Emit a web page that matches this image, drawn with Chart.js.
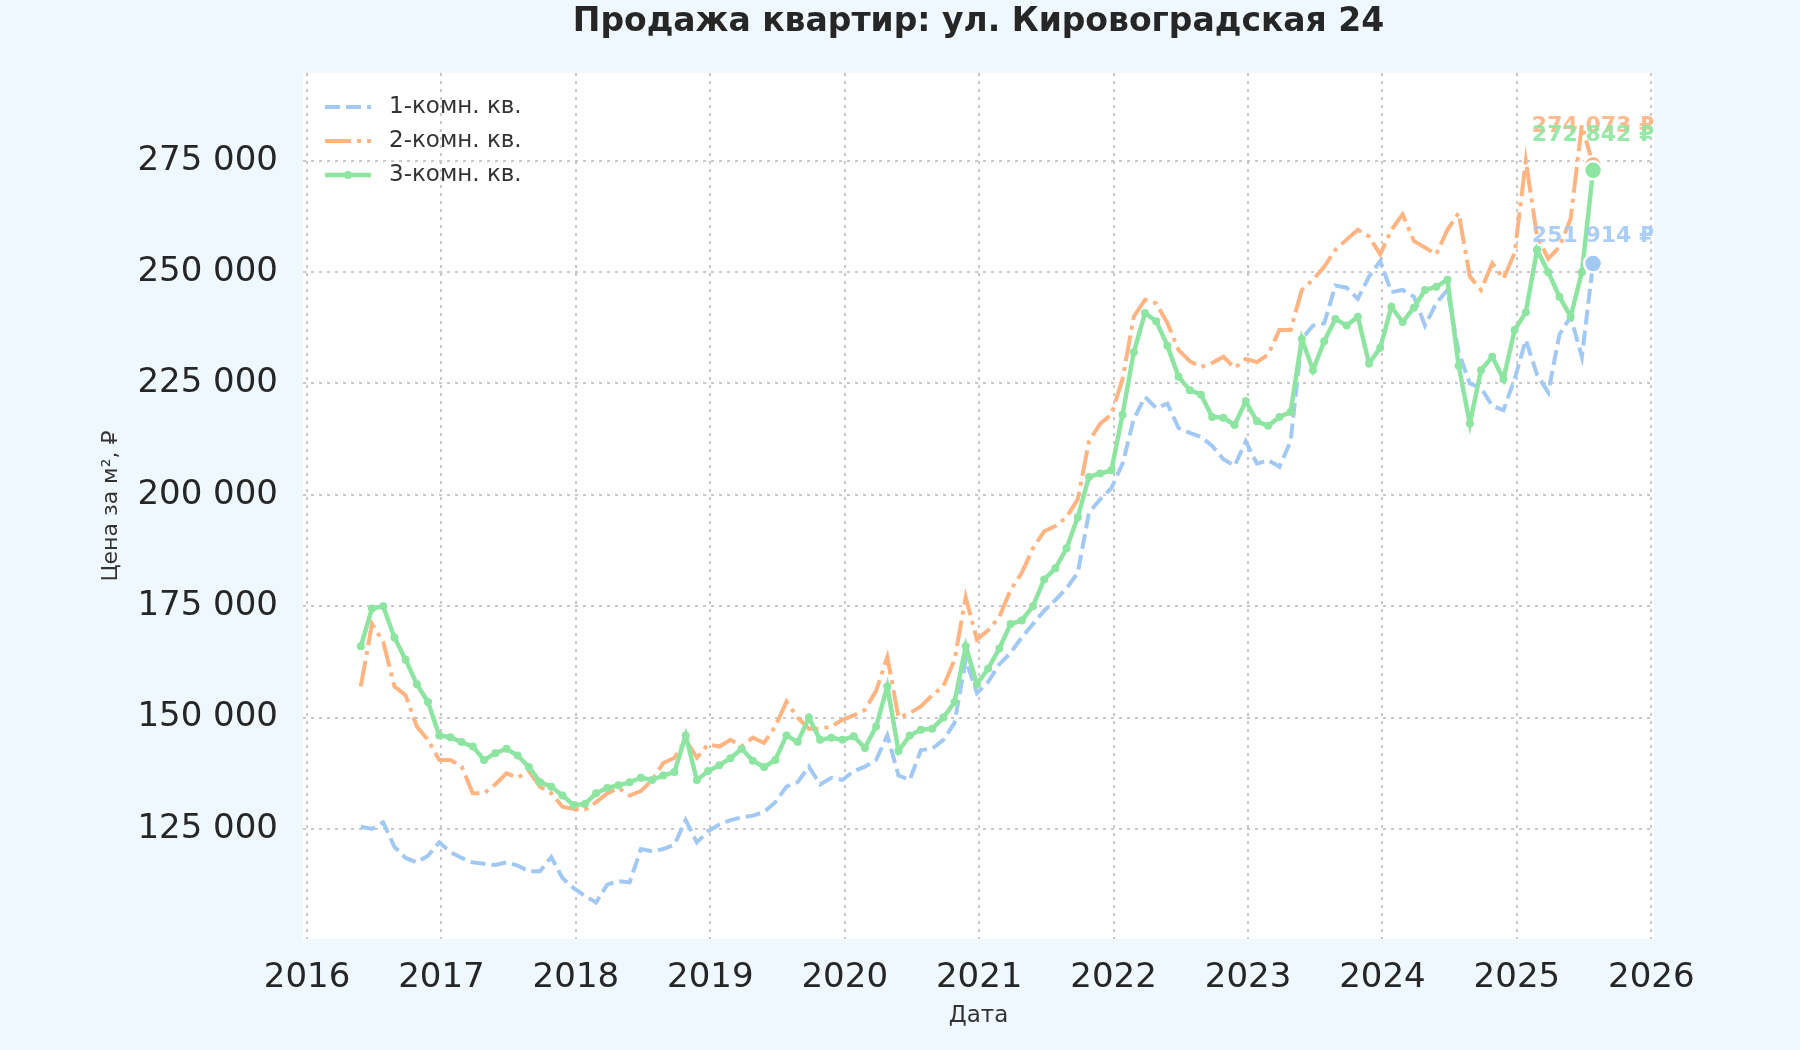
<!DOCTYPE html>
<html lang="ru">
<head>
    <meta charset="UTF-8">
    <title>Продажа квартир: ул. Кировоградская 24</title>
    <script src="https://cdn.jsdelivr.net/npm/chart.js@4.4.1/dist/chart.umd.min.js"></script>
    <style>
        html, body { margin: 0; padding: 0; background: #f0f8ff; }
        #wrap { width: 1800px; height: 1050px; }
    </style>
</head>
<body>
<div id="wrap"><canvas id="chart" width="1800" height="1050"></canvas></div>
<script>
// Данные: цена за м² в тыс. ₽, по месяцам с мая 2016 по июль 2025
const START_YEAR = 2016;
const START_MONTH = 5;

const room1 = [
  125.5, 125, 126.5, 121, 118.5, 117.5, 119, 122, 119.8, 118.5,
  117.5, 117.2, 116.9, 117.5, 116.8, 115.5, 115.5, 118.7, 114, 111.7,
  110, 108.5, 112.5, 113.3, 113, 120.5, 120, 120.5, 121.5, 127,
  122, 124.5, 126, 127, 127.6, 128, 128.8, 131, 134.5, 135.5,
  139, 135, 136.5, 136, 138, 139, 140.5, 146, 137, 136,
  142.7, 143, 145, 148.8, 163, 155.5, 158, 162, 164.5, 168,
  171, 174, 176.4, 179, 182.5, 196, 199, 201.5, 207, 217,
  222, 219.5, 220.5, 215, 213.9, 213, 211, 208, 206.5, 212,
  207, 207.8, 206.3, 212, 235, 238, 238.5, 247, 246.5, 244,
  249, 252.5, 245.5, 246, 244.5, 238, 243, 246, 232, 225,
  224, 220, 219, 226, 234.8, 227, 223, 236, 240, 231,
  251.914
];

const room2 = [
  157, 171, 167, 157, 155, 148, 145, 140.5, 140.5, 139,
  133, 133, 135, 137.5, 136.5, 138, 134.5, 133, 130, 129.5,
  129.3, 131, 133, 134.2, 132.5, 133.5, 136, 139.8, 141, 145,
  141, 144, 143.5, 145, 143.6, 145.5, 144.3, 148, 153.6, 150,
  147.5, 147.5, 148, 149.5, 150.5, 151.7, 156, 163.6, 150, 151,
  152.5, 155, 157, 163, 177, 167.5, 169.6, 172.6, 178.6, 182.5,
  188, 191.8, 193, 195, 199, 212, 216, 218, 226, 240,
  243.8, 243, 238.6, 232.5, 230, 228.7, 229.6, 231, 228.5, 230.5,
  229.8, 231.5, 237, 237, 246, 248.3, 251.2, 255, 257.3, 259.5,
  258, 254, 259.5, 263, 257, 255.5, 254, 259.5, 263.3, 249,
  246, 252, 248.5, 254.3, 275, 258, 253, 255.7, 262, 283,
  274.073
];

const room3 = [
  166, 174.5, 175, 168, 163, 157.5, 153.5, 146, 145.6, 144.5,
  143.5, 140.5, 142, 143, 141.5, 138.9, 135.5, 134.5, 132.5, 130.4,
  130.6, 133, 134.2, 134.8, 135.5, 136.5, 136, 137, 137.8, 146,
  136, 138, 139.3, 140.9, 143, 140.3, 138.9, 140.5, 146, 144.5,
  150, 145, 145.5, 145, 145.8, 143.2, 148, 157, 142.5, 146,
  147.3, 147.5, 150, 153.5, 166, 157.5, 161, 165.5, 171, 171.8,
  175, 181, 183.5, 188, 195, 204, 204.8, 205.5, 218, 232,
  240.8, 239, 233.5, 226.5, 223.5, 222.5, 217.5, 217.3, 215.7, 221,
  216.5, 215.5, 217.5, 218.6, 235, 228, 234.5, 239.5, 238, 240,
  229.5, 233, 242.2, 238.8, 242, 246, 246.7, 248.3, 229, 216,
  228, 231, 226, 237, 241, 255, 250, 244.5, 240, 250,
  272.842
];

const seriesNames = ['1-комн. кв.', '2-комн. кв.', '3-комн. кв.'];
const xTicks = [2016, 2017, 2018, 2019, 2020, 2021, 2022, 2023, 2024, 2025, 2026];
const yTicks = [125000, 150000, 175000, 200000, 225000, 250000, 275000];

const COLORS = ['#a1c9f4', '#ffb482', '#8de5a1'];
const TEXT = '#262626';
const FONT = "'DejaVu Sans', sans-serif";
Chart.defaults.font.family = FONT;

// Дата в дробных годах (конец месяца ~ 0.8)
function monthToYear(i) {
  const m = START_MONTH - 1 + i;
  return START_YEAR + Math.floor(m / 12) + ((m % 12) + 0.8) / 12;
}

function toPoints(arr) {
  return arr.map((v, i) => ({ x: monthToYear(i), y: Math.round(v * 1000) }));
}

function fmt(v) {
  return String(Math.round(v)).replace(/\B(?=(\d{3})+(?!\d))/g, ' ');
}

// Фон: светло-голубой холст и белая область графика
const backgroundPlugin = {
  id: 'bg',
  beforeDraw(chart) {
    const { ctx, chartArea: a } = chart;
    ctx.save();
    ctx.fillStyle = '#f0f8ff';
    ctx.fillRect(0, 0, chart.width, chart.height);
    ctx.fillStyle = '#ffffff';
    ctx.fillRect(a.left, a.top, a.right - a.left, a.bottom - a.top);
    ctx.restore();
  }
};

// Заголовок по центру области графика
const titlePlugin = {
  id: 'topTitle',
  afterDraw(chart) {
    const { ctx, chartArea: a } = chart;
    ctx.save();
    ctx.font = 'bold 33px ' + FONT;
    ctx.fillStyle = TEXT;
    ctx.textAlign = 'center';
    ctx.textBaseline = 'middle';
    ctx.fillText('Продажа квартир: ул. Кировоградская 24', (a.left + a.right) / 2, 22);
    ctx.restore();
  }
};

// Легенда в левом верхнем углу, с образцами линий
const legendPlugin = {
  id: 'lineLegend',
  afterDatasetsDraw(chart) {
    const { ctx, chartArea: a } = chart;
    chart.data.datasets.forEach((ds, i) => {
      const y = a.top + 34 + i * 34;
      const x0 = a.left + 22;
      const x1 = x0 + 46;
      ctx.save();
      ctx.strokeStyle = ds.borderColor;
      ctx.lineWidth = ds.borderWidth;
      ctx.lineCap = 'butt';
      ctx.setLineDash(ds.borderDash || []);
      ctx.beginPath();
      ctx.moveTo(x0, y);
      ctx.lineTo(x1, y);
      ctx.stroke();
      if (ds.pointRadius > 0) {
        ctx.fillStyle = ds.borderColor;
        ctx.beginPath();
        ctx.arc((x0 + x1) / 2, y, ds.pointRadius, 0, Math.PI * 2);
        ctx.fill();
      }
      ctx.setLineDash([]);
      ctx.font = '23px ' + FONT;
      ctx.fillStyle = '#333333';
      ctx.textBaseline = 'middle';
      ctx.fillText(ds.label, x1 + 18, y);
      ctx.restore();
    });
  }
};

// Последние значения: точки и подписи
const lastValuePlugin = {
  id: 'lastValue',
  afterDatasetsDraw(chart) {
    const { ctx, scales } = chart;
    const offsets = [-27, -39, -35];
    chart.data.datasets.forEach((ds, i) => {
      const p = ds.data[ds.data.length - 1];
      const x = scales.x.getPixelForValue(p.x);
      const y = scales.y.getPixelForValue(p.y);
      ctx.save();
      ctx.fillStyle = ds.borderColor;
      ctx.strokeStyle = '#ffffff';
      ctx.lineWidth = 2.5;
      ctx.beginPath();
      ctx.arc(x, y, 9, 0, Math.PI * 2);
      ctx.fill();
      ctx.stroke();
      ctx.globalAlpha = 0.9;
      ctx.font = 'bold 22px ' + FONT;
      ctx.textAlign = 'center';
      ctx.textBaseline = 'middle';
      ctx.fillText(fmt(p.y) + ' ₽', x, y + offsets[i]);
      ctx.restore();
    });
  }
};

const gridOpts = { color: 'rgba(190,190,190,0.85)', lineWidth: 2, drawTicks: false };
const borderOpts = { display: false, dash: [3, 5] };

new Chart(document.getElementById('chart'), {
  type: 'line',
  data: {
    datasets: [
      {
        label: seriesNames[0], data: toPoints(room1), order: 2,
        borderColor: COLORS[0], borderWidth: 4, borderDash: [15, 6],
        pointRadius: 0, tension: 0, fill: false
      },
      {
        label: seriesNames[1], data: toPoints(room2), order: 1,
        borderColor: COLORS[1], borderWidth: 4, borderDash: [26, 6, 4, 6],
        pointRadius: 0, tension: 0, fill: false
      },
      {
        label: seriesNames[2], data: toPoints(room3), order: 0,
        borderColor: COLORS[2], borderWidth: 4.5,
        pointRadius: 4, pointBackgroundColor: COLORS[2], pointBorderWidth: 0,
        tension: 0, fill: false
      }
    ]
  },
  options: {
    responsive: false,
    animation: false,
    devicePixelRatio: 1,
    layout: { padding: { top: 73, right: 146, left: 0, bottom: 0 } },
    plugins: {
      legend: { display: false },
      tooltip: { enabled: false },
      title: { display: false }
    },
    scales: {
      x: {
        type: 'linear',
        min: 2015.97,
        max: 2026.02,
        afterBuildTicks: s => { s.ticks = xTicks.map(v => ({ value: v })); },
        afterFit: s => { s.height = 111; },
        grid: gridOpts,
        border: borderOpts,
        ticks: { padding: 19, color: TEXT, font: { size: 34 }, callback: v => String(v) },
        title: {
          display: true, text: 'Дата', color: '#333333',
          font: { size: 23 }, padding: { top: 0, bottom: 20 }
        }
      },
      y: {
        type: 'linear',
        min: 100300,
        max: 294700,
        afterBuildTicks: s => { s.ticks = yTicks.map(v => ({ value: v })); },
        afterFit: s => { s.width = 303; },
        grid: gridOpts,
        border: borderOpts,
        ticks: { padding: 25, color: TEXT, font: { size: 34 }, callback: v => fmt(v) },
        title: {
          display: true, text: 'Цена за м², ₽', color: '#333333',
          font: { size: 22 }, padding: { top: 98, bottom: 0 }
        }
      }
    }
  },
  plugins: [backgroundPlugin, titlePlugin, legendPlugin, lastValuePlugin]
});
</script>
</body>
</html>
